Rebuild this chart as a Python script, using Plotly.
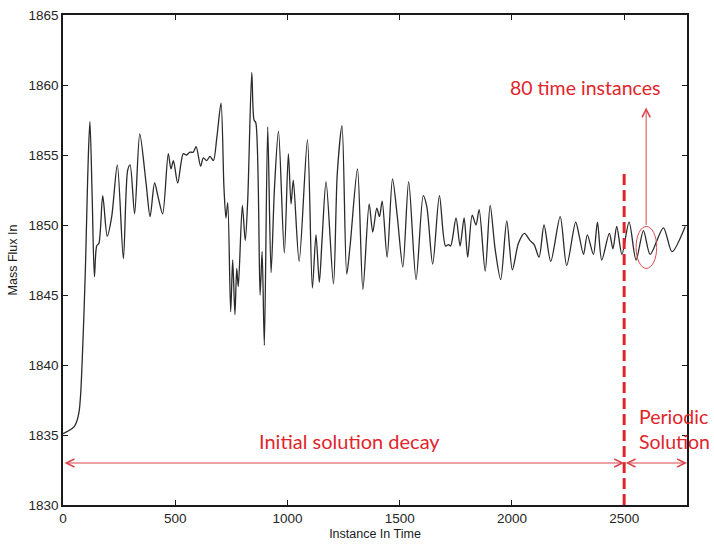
import plotly.graph_objects as go

# Mass flux history: instance index and flux value at the turning points of the signal
instance = [
    0, 25, 50, 62, 72, 79, 86, 93, 100, 107, 113, 120, 130, 140, 150, 160, 177, 197,
    217, 242, 269, 288, 299, 319, 342, 370, 388, 408, 425, 444, 469, 481, 492, 511,
    536, 550, 566, 580, 593, 613, 625, 640, 655, 670, 685, 704, 717, 726, 734, 747,
    756, 766, 774, 781, 799, 812, 823, 841, 851, 859, 878, 887, 897, 912, 927, 942,
    960, 986, 1004, 1016, 1026, 1052, 1089, 1111, 1127, 1142, 1154, 1172, 1205, 1222,
    1243, 1264, 1279, 1312, 1336, 1364, 1380, 1398, 1410, 1422, 1444, 1468, 1490, 1514,
    1540, 1573, 1605, 1621, 1647, 1677, 1704, 1717, 1727, 1751, 1769, 1787, 1803, 1823,
    1840, 1854, 1881, 1903, 1925, 1950, 1977, 2002, 2029, 2056, 2080, 2099, 2121, 2143,
    2173, 2215, 2244, 2284, 2300, 2319, 2336, 2363, 2381, 2400, 2434, 2450, 2467, 2490,
    2522, 2553, 2586, 2616, 2675, 2713, 2772,
]
mass_flux = [
    1835.1, 1835.3, 1835.6, 1836.0, 1836.7, 1838.0, 1840.5, 1843.5, 1847.0, 1851.5,
    1855.0, 1857.4, 1852.0, 1846.3, 1848.5, 1848.7, 1852.1, 1849.2, 1850.6, 1854.3,
    1847.6, 1853.9, 1854.3, 1850.8, 1856.5, 1853.0, 1850.6, 1853.0, 1851.9, 1850.8,
    1855.1, 1854.0, 1854.6, 1853.0, 1855.1, 1855.0, 1855.2, 1855.2, 1855.6, 1854.2,
    1854.8, 1854.6, 1854.9, 1854.6, 1856.2, 1858.7, 1852.7, 1850.5, 1851.6, 1843.8,
    1847.5, 1843.6, 1846.9, 1845.6, 1851.4, 1848.9, 1851.8, 1860.9, 1857.5, 1857.3,
    1845.0, 1848.1, 1841.4, 1857.0, 1846.6, 1852.6, 1856.7, 1848.0, 1855.1, 1851.5,
    1853.2, 1847.4, 1856.1, 1845.5, 1849.3, 1845.9, 1848.9, 1853.1, 1845.8, 1853.7,
    1857.1, 1846.5, 1848.5, 1854.0, 1845.4, 1851.5, 1849.5, 1851.2, 1850.6, 1851.7,
    1847.7, 1853.3, 1850.5, 1847.0, 1853.1, 1846.1, 1852.1, 1851.3, 1847.2, 1852.1,
    1848.5, 1848.6, 1848.5, 1850.5, 1848.5, 1850.5, 1847.7, 1850.7, 1850.0, 1851.1,
    1846.7, 1851.4, 1848.3, 1846.1, 1850.3, 1846.8, 1848.7, 1849.4, 1848.9, 1848.6,
    1847.7, 1850.0, 1847.4, 1850.6, 1847.1, 1850.2, 1849.2, 1847.9, 1849.3, 1847.9,
    1850.2, 1847.5, 1849.4, 1848.3, 1849.9, 1847.9, 1850.2, 1847.5, 1849.6, 1847.9,
    1849.8, 1848.1, 1849.9,
]

x_ticks = [0, 500, 1000, 1500, 2000, 2500]
y_ticks = [1830, 1835, 1840, 1845, 1850, 1855, 1860, 1865]

# Region boundaries and annotation anchors
x_end = 2780
periodic_start = 2500
span_arrow_y = 1833.0
window_x = 2598
window_x0, window_x1 = 2553, 2645
window_y0, window_y1 = 1846.9, 1849.9

RED = "#e0252b"
RED_THIN = "#d9474c"
AX_FONT = "Liberation Sans, Arial, sans-serif"
NOTE_FONT = "Lato, Open Sans, sans-serif"

fig = go.Figure()
fig.add_trace(go.Scatter(
    x=instance, y=mass_flux, mode="lines",
    line=dict(color="#2a2a2a", width=1.3, shape="spline", smoothing=0.8),
    hoverinfo="skip", showlegend=False,
))

# Dashed boundary between transient and periodic parts
fig.add_shape(type="line", xref="x", yref="y",
              x0=periodic_start, x1=periodic_start, y0=1830, y1=1853.8,
              line=dict(color=RED, width=3, dash="11px,5px"))

# Ellipse around one period
fig.add_shape(type="circle", xref="x", yref="y",
              x0=window_x0, x1=window_x1, y0=window_y0, y1=window_y1,
              line=dict(color=RED_THIN, width=1))

arrow_common = dict(text="", showarrow=True, xref="x", yref="y", axref="x", ayref="y",
                    arrowcolor=RED_THIN, arrowwidth=1, arrowsize=1.6, arrowhead=5,
                    startarrowhead=5, startarrowsize=1.6)

fig.add_annotation(x=periodic_start, y=span_arrow_y, ax=0, ay=span_arrow_y,
                   arrowside="end+start", **arrow_common)
fig.add_annotation(x=x_end, y=span_arrow_y, ax=periodic_start, ay=span_arrow_y,
                   arrowside="end+start", **arrow_common)
fig.add_annotation(x=window_x, y=1858.4, ax=window_x, ay=window_y1,
                   arrowside="end", **arrow_common)

fig.add_annotation(x=1275, y=1834.6, text="Initial solution decay", showarrow=False,
                   font=dict(family=NOTE_FONT, size=20, color=RED), xref="x", yref="y")
fig.add_annotation(x=2558, y=1835.45, text="Periodic<br>Solution", showarrow=False,
                   xanchor="left", align="left",
                   font=dict(family=NOTE_FONT, size=19.5, color=RED), xref="x", yref="y")
fig.add_annotation(x=2324, y=1859.8, text="80 time instances", showarrow=False,
                   font=dict(family=NOTE_FONT, size=19.5, color=RED), xref="x", yref="y")

axis_common = dict(
    showline=True, linecolor="#1a1a1a", linewidth=1.5, mirror="ticks",
    ticks="inside", ticklen=5, tickwidth=1, tickcolor="#1a1a1a",
    showgrid=False, zeroline=False,
    tickfont=dict(family=AX_FONT, size=13.5, color="#262626"),
)

fig.update_xaxes(range=[0, x_end], tickvals=x_ticks,
                 title=dict(text="Instance In Time", standoff=4,
                            font=dict(family=AX_FONT, size=12.5, color="#1a1a1a")),
                 **axis_common)
fig.update_yaxes(range=[1830, 1865], tickvals=y_ticks,
                 title=dict(text="Mass Flux In", standoff=8,
                            font=dict(family=AX_FONT, size=12.5, color="#1a1a1a")),
                 **axis_common)

fig.update_layout(
    width=714, height=544,
    margin=dict(l=63, r=27, t=15, b=39, autoexpand=False),
    plot_bgcolor="white", paper_bgcolor="white",
    showlegend=False,
)

fig.write_html("out.html", include_plotlyjs=True, full_html=True,
               config=dict(displayModeBar=False))
